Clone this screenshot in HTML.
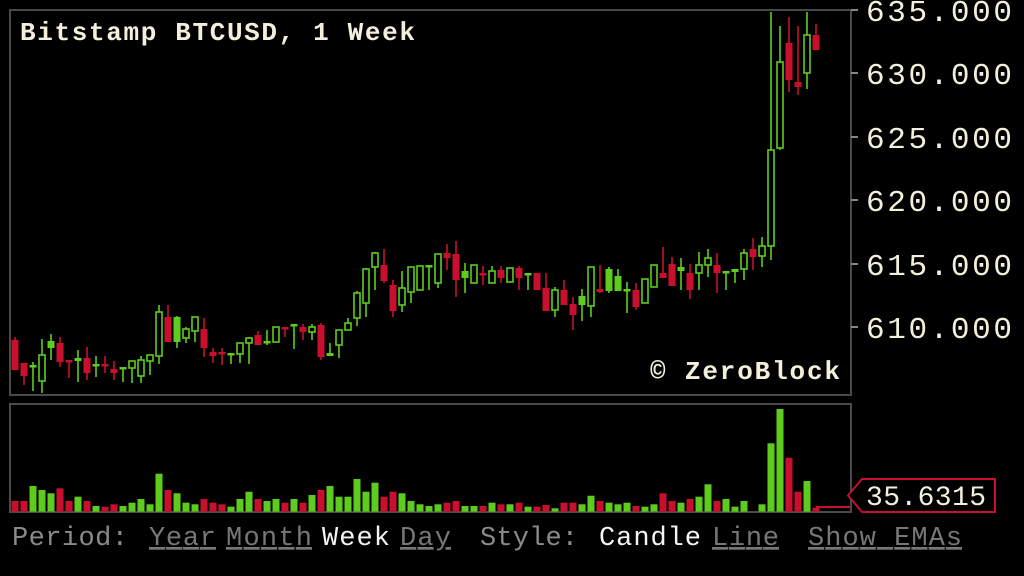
<!DOCTYPE html>
<html><head><meta charset="utf-8"><style>
html,body{margin:0;padding:0;background:#000;width:1024px;height:576px;overflow:hidden}
svg{display:block}
.m{font-family:"Liberation Mono","DejaVu Sans Mono",monospace}
</style></head><body>
<svg width="1024" height="576" viewBox="0 0 1024 576" xmlns="http://www.w3.org/2000/svg">
<rect width="1024" height="576" fill="#000"/>
<rect x="10" y="10" width="841" height="385" fill="none" stroke="#4a4a4a" stroke-width="2"/>
<rect x="10" y="404" width="841" height="108" fill="none" stroke="#4a4a4a" stroke-width="2"/>
<g stroke="#888" stroke-width="2">
<line x1="851" y1="10" x2="858" y2="10"/><line x1="851" y1="73" x2="858" y2="73"/>
<line x1="851" y1="137" x2="858" y2="137"/><line x1="851" y1="200" x2="858" y2="200"/>
<line x1="851" y1="264" x2="858" y2="264"/><line x1="851" y1="327" x2="858" y2="327"/>
</g>
<g class="m" fill="#f2f0dc" font-size="31">
<text x="866" y="21" textLength="146">635.000</text>
<text x="866" y="84" textLength="146">630.000</text>
<text x="866" y="148" textLength="146">625.000</text>
<text x="866" y="211" textLength="146">620.000</text>
<text x="866" y="275" textLength="146">615.000</text>
<text x="866" y="338" textLength="146">610.000</text>
</g>
<text class="m" x="20" y="40" font-size="26" font-weight="bold" fill="#f2f0dc" textLength="395">Bitstamp BTCUSD, 1 Week</text>
<text class="m" x="650" y="379" font-size="26" font-weight="bold" fill="#f2f0dc" textLength="190">© ZeroBlock</text>
<path stroke="#5ecc1e" stroke-width="1.6" fill="none" d="M33 362V391M42 339V393M51 334V360M78 350V382M96 356V377M123 367V382M132 361V383M141 356V383M150 355V375M159 305V364M177 316V348M186 327V343M195 317V342M231 353V364M240 343V363M249 337V364M267 330V345M276 327V342M294 324V349M312 324V340M330 343V356M339 330V358M348 318V330M357 291V326M366 268V317M375 252V290M402 271V312M411 267V303M420 266V290M429 265V290M438 254V288M465 263V293M474 265V283M492 266V283M510 268V282M528 273V290M555 287V317M582 289V321M591 267V317M609 267V293M618 269V291M627 282V313M645 279V303M654 265V287M681 258V290M699 252V290M708 249V277M726 271V290M735 269V283M744 249V280M762 237V267M771 12V260M780 26V150M807 12V89"/>
<path stroke="#c8102e" stroke-width="1.6" fill="none" d="M15 337V370M24 363V385M60 337V367M69 360V378M87 347V380M105 356V373M114 361V380M168 305V342M204 318V357M213 348V363M222 348V365M258 331V345M285 327V337M303 324V340M321 323V360M384 249V283M393 280V317M447 244V270M456 241V297M483 266V285M501 266V283M519 266V290M537 273V290M546 273V311M564 280V305M573 297V330M600 265V293M636 283V310M663 247V278M672 257V286M690 264V299M717 253V293M753 238V270M789 17V92M798 26V95M816 24V50"/>
<g fill="#000" stroke="#5ecc1e" stroke-width="1.6">
<rect x="39" y="355" width="6" height="26"/><rect x="129" y="361" width="6" height="7"/><rect x="138" y="360" width="6" height="16"/><rect x="147" y="355" width="6" height="6"/><rect x="156" y="312" width="6" height="44"/><rect x="183" y="329" width="6" height="9"/><rect x="192" y="317" width="6" height="14"/><rect x="237" y="343" width="6" height="11"/><rect x="246" y="338" width="6" height="5"/><rect x="273" y="327" width="6" height="15"/><rect x="309" y="327" width="6" height="5"/><rect x="336" y="330" width="6" height="15"/><rect x="345" y="323" width="6" height="7"/><rect x="354" y="293" width="6" height="25"/><rect x="363" y="269" width="6" height="34"/><rect x="372" y="253" width="6" height="14"/><rect x="399" y="288" width="6" height="17"/><rect x="408" y="267" width="6" height="25"/><rect x="417" y="266" width="6" height="24"/><rect x="435" y="254" width="6" height="29"/><rect x="471" y="265" width="6" height="18"/><rect x="489" y="271" width="6" height="12"/><rect x="507" y="268" width="6" height="14"/><rect x="552" y="290" width="6" height="20"/><rect x="588" y="267" width="6" height="39"/><rect x="642" y="279" width="6" height="24"/><rect x="651" y="265" width="6" height="22"/><rect x="696" y="265" width="6" height="8"/><rect x="705" y="258" width="6" height="7"/><rect x="741" y="253" width="6" height="16"/><rect x="759" y="246" width="6" height="10"/><rect x="768" y="150" width="6" height="96"/><rect x="777" y="62" width="6" height="86"/><rect x="804" y="35" width="6" height="38"/>
</g>
<g fill="#5ecc1e">
<rect x="29.5" y="365" width="7" height="2.5"/><rect x="47.5" y="341" width="7" height="7"/><rect x="74.5" y="358" width="7" height="3"/><rect x="92.5" y="364" width="7" height="2.5"/><rect x="119.5" y="367" width="7" height="2.5"/><rect x="173.5" y="317" width="7" height="25"/><rect x="227.5" y="353" width="7" height="2.5"/><rect x="263.5" y="341" width="7" height="2.5"/><rect x="290.5" y="324" width="7" height="2.5"/><rect x="326.5" y="353" width="7" height="3"/><rect x="425.5" y="265" width="7" height="2.5"/><rect x="461.5" y="271" width="7" height="7"/><rect x="524.5" y="273" width="7" height="2.5"/><rect x="578.5" y="296" width="7" height="9"/><rect x="605.5" y="269" width="7" height="22"/><rect x="614.5" y="276" width="7" height="15"/><rect x="623.5" y="289" width="7" height="2.5"/><rect x="677.5" y="267" width="7" height="4"/><rect x="722.5" y="271" width="7" height="2.5"/><rect x="731.5" y="269" width="7" height="3"/>
</g>
<g fill="#c8102e">
<rect x="11.5" y="340" width="7" height="30"/><rect x="20.5" y="363" width="7" height="13"/><rect x="56.5" y="343" width="7" height="19"/><rect x="65.5" y="360" width="7" height="2.5"/><rect x="83.5" y="358" width="7" height="15"/><rect x="101.5" y="364" width="7" height="2.5"/><rect x="110.5" y="369" width="7" height="4"/><rect x="164.5" y="317" width="7" height="25"/><rect x="200.5" y="329" width="7" height="19"/><rect x="209.5" y="352" width="7" height="4"/><rect x="218.5" y="352" width="7" height="2.5"/><rect x="254.5" y="335" width="7" height="10"/><rect x="281.5" y="327" width="7" height="2.5"/><rect x="299.5" y="327" width="7" height="5"/><rect x="317.5" y="325" width="7" height="32"/><rect x="380.5" y="265" width="7" height="16"/><rect x="389.5" y="285" width="7" height="26"/><rect x="443.5" y="253" width="7" height="5"/><rect x="452.5" y="254" width="7" height="26"/><rect x="479.5" y="273" width="7" height="2.5"/><rect x="497.5" y="270" width="7" height="8"/><rect x="515.5" y="268" width="7" height="10"/><rect x="533.5" y="273" width="7" height="17"/><rect x="542.5" y="288" width="7" height="23"/><rect x="560.5" y="290" width="7" height="15"/><rect x="569.5" y="304" width="7" height="11"/><rect x="596.5" y="289" width="7" height="3"/><rect x="632.5" y="290" width="7" height="17"/><rect x="659.5" y="273" width="7" height="5"/><rect x="668.5" y="264" width="7" height="22"/><rect x="686.5" y="273" width="7" height="17"/><rect x="713.5" y="265" width="7" height="8"/><rect x="749.5" y="249" width="7" height="8"/><rect x="785.5" y="43" width="7" height="37"/><rect x="794.5" y="82" width="7" height="5"/><rect x="812.5" y="35" width="7" height="15"/>
</g>
<g fill="#5ecc1e">
<rect x="29.5" y="486" width="7" height="25.7"/><rect x="38.5" y="490" width="7" height="21.7"/><rect x="47.5" y="493.3" width="7" height="18.3"/><rect x="74.5" y="496.7" width="7" height="15"/><rect x="92.5" y="506" width="7" height="5.7"/><rect x="119.5" y="506" width="7" height="5.7"/><rect x="128.5" y="502.7" width="7" height="9"/><rect x="137.5" y="499" width="7" height="12.7"/><rect x="146.5" y="504.3" width="7" height="7.3"/><rect x="155.5" y="473.7" width="7" height="38"/><rect x="173.5" y="493.3" width="7" height="18.3"/><rect x="182.5" y="502.7" width="7" height="9"/><rect x="191.5" y="504.3" width="7" height="7.3"/><rect x="227.5" y="506.7" width="7" height="5"/><rect x="236.5" y="499" width="7" height="12.7"/><rect x="245.5" y="491.7" width="7" height="20"/><rect x="263.5" y="501" width="7" height="10.7"/><rect x="272.5" y="499" width="7" height="12.7"/><rect x="290.5" y="499" width="7" height="12.7"/><rect x="308.5" y="495" width="7" height="16.7"/><rect x="326.5" y="486" width="7" height="25.7"/><rect x="335.5" y="496.7" width="7" height="15"/><rect x="344.5" y="496.7" width="7" height="15"/><rect x="353.5" y="479" width="7" height="32.7"/><rect x="362.5" y="491.7" width="7" height="20"/><rect x="371.5" y="482.7" width="7" height="29"/><rect x="398.5" y="493.3" width="7" height="18.3"/><rect x="407.5" y="501" width="7" height="10.7"/><rect x="416.5" y="504.3" width="7" height="7.3"/><rect x="425.5" y="506" width="7" height="5.7"/><rect x="434.5" y="504.3" width="7" height="7.3"/><rect x="461.5" y="506" width="7" height="5.7"/><rect x="470.5" y="506" width="7" height="5.7"/><rect x="488.5" y="502.7" width="7" height="9"/><rect x="506.5" y="504.3" width="7" height="7.3"/><rect x="524.5" y="506.7" width="7" height="5"/><rect x="551.5" y="508.3" width="7" height="3.3"/><rect x="578.5" y="504.3" width="7" height="7.3"/><rect x="587.5" y="495.7" width="7" height="16"/><rect x="605.5" y="502.7" width="7" height="9"/><rect x="614.5" y="504.3" width="7" height="7.3"/><rect x="623.5" y="502.7" width="7" height="9"/><rect x="641.5" y="506.7" width="7" height="5"/><rect x="650.5" y="504.3" width="7" height="7.3"/><rect x="677.5" y="502.7" width="7" height="9"/><rect x="695.5" y="496.7" width="7" height="15"/><rect x="704.5" y="484.3" width="7" height="27.3"/><rect x="722.5" y="499" width="7" height="12.7"/><rect x="731.5" y="506.7" width="7" height="5"/><rect x="740.5" y="501" width="7" height="10.7"/><rect x="758.5" y="504.3" width="7" height="7.3"/><rect x="767.5" y="443.3" width="7" height="68.3"/><rect x="776.5" y="409" width="7" height="102.7"/><rect x="803.5" y="481" width="7" height="30.7"/>
</g>
<g fill="#c8102e">
<rect x="11.5" y="501" width="7" height="10.7"/><rect x="20.5" y="501" width="7" height="10.7"/><rect x="56.5" y="488.3" width="7" height="23.3"/><rect x="65.5" y="501" width="7" height="10.7"/><rect x="83.5" y="501" width="7" height="10.7"/><rect x="101.5" y="506.7" width="7" height="5"/><rect x="110.5" y="504.3" width="7" height="7.3"/><rect x="164.5" y="490" width="7" height="21.7"/><rect x="200.5" y="499" width="7" height="12.7"/><rect x="209.5" y="502.7" width="7" height="9"/><rect x="218.5" y="504.3" width="7" height="7.3"/><rect x="254.5" y="499" width="7" height="12.7"/><rect x="281.5" y="502.7" width="7" height="9"/><rect x="299.5" y="502.7" width="7" height="9"/><rect x="317.5" y="490" width="7" height="21.7"/><rect x="380.5" y="496.7" width="7" height="15"/><rect x="389.5" y="491.7" width="7" height="20"/><rect x="443.5" y="502.7" width="7" height="9"/><rect x="452.5" y="501" width="7" height="10.7"/><rect x="479.5" y="506" width="7" height="5.7"/><rect x="497.5" y="504.3" width="7" height="7.3"/><rect x="515.5" y="502.7" width="7" height="9"/><rect x="533.5" y="506.7" width="7" height="5"/><rect x="542.5" y="505" width="7" height="6.7"/><rect x="560.5" y="502.7" width="7" height="9"/><rect x="569.5" y="502.7" width="7" height="9"/><rect x="596.5" y="501" width="7" height="10.7"/><rect x="632.5" y="506" width="7" height="5.7"/><rect x="659.5" y="493.3" width="7" height="18.3"/><rect x="668.5" y="501" width="7" height="10.7"/><rect x="686.5" y="499" width="7" height="12.7"/><rect x="713.5" y="501" width="7" height="10.7"/><rect x="785.5" y="457.7" width="7" height="54"/><rect x="794.5" y="491.7" width="7" height="20"/><rect x="812.5" y="507.7" width="7" height="4"/>
</g>
<line x1="816" y1="507" x2="850" y2="507" stroke="#c8102e" stroke-width="2"/>
<path d="M862 479H995V512H862L848 495.5Z" fill="#000" stroke="#c8102e" stroke-width="2"/>
<text class="m" x="866" y="505" font-size="28" fill="#f2f0dc" textLength="120">35.6315</text>
<g class="m" font-size="27">
<text x="12" y="545" fill="#8a8a8a" textLength="116">Period:</text>
<text x="149" y="545" fill="#777" text-decoration="underline" textLength="67">Year</text>
<text x="226" y="545" fill="#777" text-decoration="underline" textLength="86">Month</text>
<text x="322" y="545" fill="#f4f4f4" textLength="68">Week</text>
<text x="400" y="545" fill="#777" text-decoration="underline" textLength="51">Day</text>
<text x="480" y="545" fill="#8a8a8a" textLength="98">Style:</text>
<text x="599" y="545" fill="#f4f4f4" textLength="102">Candle</text>
<text x="712" y="545" fill="#777" text-decoration="underline" textLength="67">Line</text>
<text x="808" y="545" fill="#777" text-decoration="underline" textLength="154">Show EMAs</text>
</g>
</svg>
</body></html>
